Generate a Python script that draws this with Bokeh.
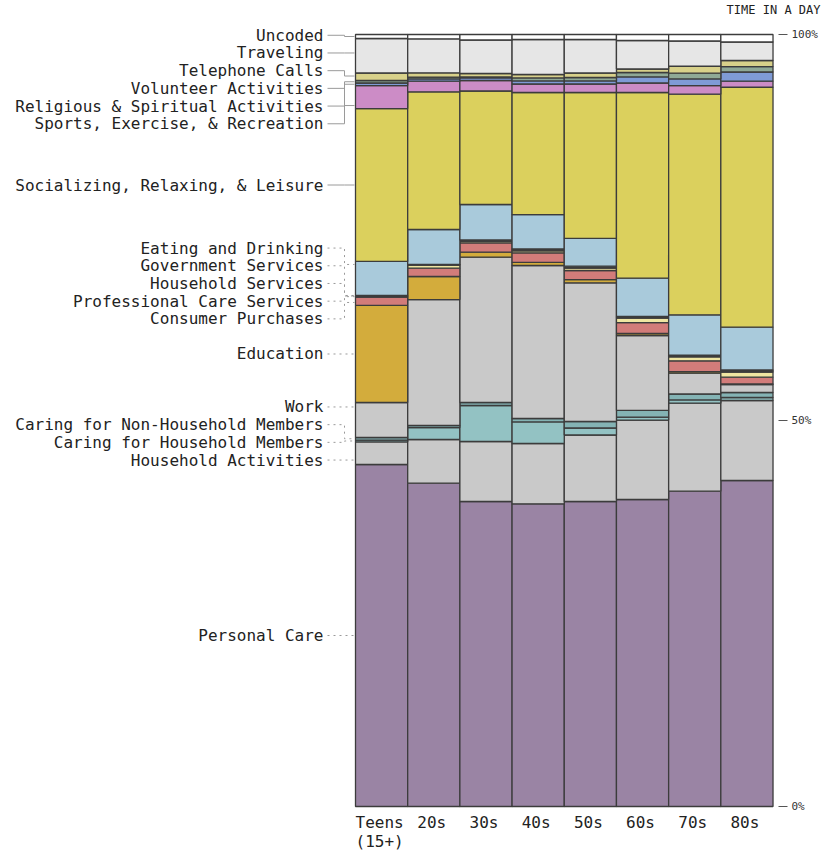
from bokeh.plotting import figure
from bokeh.models import ColumnDataSource, LinearAxis, FixedTicker, Range1d
from bokeh.core.properties import value
from bokeh.embed import file_html
from bokeh.resources import INLINE

# ---------------- data (percent of a day) ----------------
ages = ["Teens\n(15+)", "20s", "30s", "40s", "50s", "60s", "70s", "80s"]

categories = [
    "Personal Care", "Household Activities", "Caring for Household Members",
    "Caring for Non-Household Members", "Work", "Education", "Consumer Purchases",
    "Professional Care Services", "Household Services", "Government Services",
    "Eating and Drinking", "Socializing, Relaxing, & Leisure",
    "Sports, Exercise, & Recreation", "Religious & Spiritual Activities",
    "Volunteer Activities", "Telephone Calls", "Traveling", "Uncoded",
]

personal_care        = [44.30, 41.88, 39.51, 39.21, 39.51, 39.77, 40.84, 42.23]
household_activities = [2.92, 5.66, 7.77, 7.81, 8.61, 10.29, 11.40, 10.36]
caring_household     = [0.25, 1.55, 4.66, 2.79, 0.91, 0.39, 0.42, 0.39]
caring_nonhousehold  = [0.33, 0.26, 0.39, 0.45, 0.84, 0.85, 0.77, 0.65]
work                 = [4.53, 16.32, 18.82, 19.82, 17.97, 9.71, 2.70, 1.03]
education            = [12.57, 2.98, 0.65, 0.39, 0.42, 0.26, 0.19, 0.07]
consumer_purchases   = [1.10, 1.08, 1.22, 1.25, 1.17, 1.42, 1.41, 0.88]
professional_care    = [0.09, 0.41, 0.17, 0.24, 0.32, 0.59, 0.50, 0.67]
household_services   = [0.08, 0.04, 0.13, 0.13, 0.13, 0.10, 0.13, 0.13]
government_services  = [0.05, 0.03, 0.06, 0.13, 0.11, 0.09, 0.12, 0.13]
eating_drinking      = [4.38, 4.53, 4.60, 4.46, 3.60, 4.96, 5.21, 5.55]
socializing          = [19.81, 17.84, 14.70, 15.81, 18.90, 24.06, 28.58, 31.08]
sports               = [2.98, 1.38, 1.36, 1.10, 1.10, 1.23, 1.12, 0.79]
religious            = [0.33, 0.28, 0.33, 0.39, 0.39, 0.78, 0.85, 1.18]
volunteer            = [0.32, 0.24, 0.13, 0.39, 0.45, 0.58, 0.75, 0.71]
telephone            = [0.97, 0.56, 0.45, 0.45, 0.58, 0.45, 0.90, 0.78]
traveling            = [4.47, 4.40, 4.34, 4.53, 4.34, 3.69, 3.27, 2.40]
uncoded              = [0.52, 0.56, 0.71, 0.65, 0.65, 0.78, 0.84, 0.97]

y_ticks = [0, 50, 100]
y_tick_labels = ["0%", "50%", "100%"]
title_text = "TIME IN A DAY"

series = [personal_care, household_activities, caring_household, caring_nonhousehold,
          work, education, consumer_purchases, professional_care, household_services,
          government_services, eating_drinking, socializing, sports, religious,
          volunteer, telephone, traveling, uncoded]

colors = ["#9a84a4", "#c9c9c9", "#93c2c3", "#84b3b4", "#c9c9c9", "#d3ac3c",
          "#d27c7a", "#efe6a2", "#6b6b6b", "#444444", "#a9cadb", "#dbd05d",
          "#cc8cc6", "#7f9bd6", "#8fa996", "#d8d18a", "#e6e6e6", "#ffffff"]

# ---------------- layout ----------------
W, H = 832, 851
TOP = 18
frame_w = 778
RIGHT = W - frame_w
ppu = 52.19          # pixels per bar
ppp = 7.72           # pixels per percent
bar0_left = 355      # px from frame left
top100 = 34          # px of the 100% line from page top
zero_px = 806        # px of the 0% line from page top
x_start = -0.5 - bar0_left / ppu
x_end = x_start + frame_w / ppu
y_end = 100 + (top100 - TOP) / ppp
y_start = -(H - zero_px) / ppp


def px_x(px):
    return x_start + px / ppu


def px_y(py):
    return (zero_px - py) / ppp


FONT = "DejaVu Sans Mono"

p = figure(width=W, height=H, x_range=Range1d(x_start, x_end), y_range=Range1d(y_start, y_end),
           x_axis_location=None, y_axis_location=None, toolbar_location=None,
           output_backend="svg", min_border_left=0, min_border_right=RIGHT,
           min_border_top=TOP, min_border_bottom=0, outline_line_color=None,
           background_fill_color="white", border_fill_color="white",
           title=title_text, title_location="above")
p.xgrid.visible = False
p.ygrid.visible = False
p.title.align = "right"
p.title.offset = -42
p.title.standoff = 0
p.title.vertical_align = "top"
p.title.text_font = FONT
p.title.text_font_size = "12px"
p.title.text_font_style = "normal"
p.title.text_color = "#222222"

keys = [f"s{i}" for i in range(len(series))]
data = {"x": list(range(len(ages)))}
for k, s in zip(keys, series):
    data[k] = s
source = ColumnDataSource(data)
p.vbar_stack(keys, x="x", width=1.0, color=colors, line_color="#3c3c3c",
             line_width=1.3, source=source)

# right axis
ax = LinearAxis(ticker=FixedTicker(ticks=y_ticks),
                major_label_overrides={t: l for t, l in zip(y_ticks, y_tick_labels)},
                axis_line_color=None, major_tick_in=0, major_tick_out=9,
                major_tick_line_color="#555555", minor_tick_line_color=None,
                major_label_text_font=FONT, major_label_text_font_size="11px",
                major_label_text_color="#333333", major_label_standoff=4)
p.add_layout(ax, "right")

# ---------------- side labels for the first bar ----------------
seg_lo, seg_hi, targets = [], [], []
cum = 0.0
for s in series:
    seg_lo.append(cum)
    seg_hi.append(cum + s[0])
    targets.append(cum + s[0] / 2)
    cum += s[0]

gap = 17.7 / ppp
top_bound = 99.9
order = sorted(range(len(targets)), key=lambda i: targets[i])
clusters = []  # [members, base]
for i in order:
    clusters.append([[i], min(targets[i], top_bound)])
    while len(clusters) > 1:
        a, b = clusters[-2], clusters[-1]
        if a[1] + len(a[0]) * gap > b[1]:
            mem = a[0] + b[0]
            n = len(mem)
            # centre a merged group on the span its segments cover
            centre = (min(seg_lo[m] for m in mem) + max(seg_hi[m] for m in mem)) / 2
            base = centre - (n - 1) / 2 * gap
            base = min(base, top_bound - (n - 1) * gap)
            clusters[-2:] = [[mem, base]]
        else:
            break
label_y = [0.0] * len(targets)
for mem, base in clusters:
    for k, m in enumerate(mem):
        label_y[m] = base + k * gap

# leader end: the point of the segment nearest to its label (kept off the edges)
pad = 3 / ppp
anchor_y = []
for i in range(len(targets)):
    lo, hi = seg_lo[i] + pad, seg_hi[i] - pad
    if lo >= hi:
        anchor_y.append(targets[i])
    else:
        anchor_y.append(min(max(label_y[i], lo), hi))

p.text(x=[px_x(323)] * len(categories), y=label_y, text=categories,
       text_align="right", text_baseline="middle", text_font=value(FONT),
       text_font_size="16px", text_color="#222222")

x_a, x_b, x_c = px_x(327), px_x(344), px_x(354)
solid_xs, solid_ys, dot_xs, dot_ys = [], [], [], []
for i in range(len(categories)):
    xs = [x_a, x_b, x_b, x_c]
    ys = [label_y[i], label_y[i], anchor_y[i], anchor_y[i]]
    if i >= 11:
        solid_xs.append(xs); solid_ys.append(ys)
    else:
        dot_xs.append(xs); dot_ys.append(ys)
p.multi_line(solid_xs, solid_ys, line_color="#9a9a9a", line_width=1)
p.multi_line(dot_xs, dot_ys, line_color="#9a9a9a", line_width=1, line_dash="dotted")

# bottom category labels
p.text(x=[i - 2 / ppu for i in range(len(ages))], y=[px_y(812)] * len(ages), text=ages,
       text_align="center", text_baseline="top", text_font=value(FONT),
       text_font_size="16px", text_color="#222222", text_line_height=1.05)

open("out.html", "w").write(file_html(p, INLINE))
